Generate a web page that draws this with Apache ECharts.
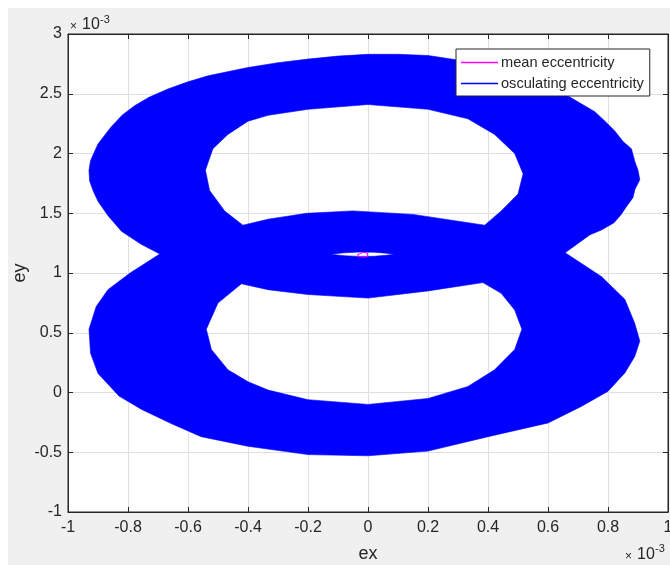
<!DOCTYPE html>
<html>
<head>
<meta charset="utf-8">
<title>eccentricity</title>
<script src="https://cdn.jsdelivr.net/npm/echarts@6/dist/echarts.min.js"></script>
<style>
  html, body { margin: 0; padding: 0; background: #fff; }
  #chart { position: absolute; left: 8px; top: 8px; width: 662px; height: 557px; }
</style>
</head>
<body>
<div id="chart"></div>
<script>
// all values in units of 1e-3 (the axes carry the x10^-3 factor)
const xTicks = [-1, -0.8, -0.6, -0.4, -0.2, 0, 0.2, 0.4, 0.6, 0.8, 1]
const yTicks = [-1, -0.5, 0, 0.5, 1, 1.5, 2, 2.5, 3]

// osculating eccentricity: the filled band, traced as boundaries [ex, ey]
// upper loop, outside edge
const upperOuter = [
  [-0.694, 1.16], [-0.4, 1.10], [-0.16, 1.10], [-0.125, 1.157], [-0.08, 1.169], [-0.03, 1.175],
  [0.02, 1.174], [0.06, 1.166], [0.088, 1.157], [0.12, 1.10], [0.35, 1.10], [0.657, 1.17],
  [0.74, 1.32], [0.778, 1.36], [0.82, 1.42], [0.844, 1.49], [0.86, 1.55], [0.883, 1.63],
  [0.89, 1.70], [0.906, 1.78], [0.9, 1.86], [0.89, 1.93], [0.878, 2.04], [0.85, 2.10],
  [0.822, 2.19], [0.79, 2.27], [0.756, 2.35], [0.667, 2.48], [0.5, 2.66], [0.333, 2.77],
  [0.2, 2.82], [0.1, 2.83], [0, 2.83], [-0.1, 2.815], [-0.2, 2.79], [-0.3, 2.76], [-0.4, 2.72],
  [-0.533, 2.65], [-0.6, 2.60], [-0.667, 2.54], [-0.73, 2.47], [-0.778, 2.40], [-0.82, 2.32],
  [-0.857, 2.22], [-0.9, 2.08], [-0.925, 1.94], [-0.93, 1.86], [-0.928, 1.77], [-0.915, 1.68],
  [-0.9, 1.60], [-0.867, 1.48], [-0.822, 1.35], [-0.756, 1.24]
]
// upper loop, hole
const upperHole = [
  [-0.417, 1.40], [-0.478, 1.52], [-0.528, 1.69], [-0.542, 1.86], [-0.517, 2.04], [-0.467, 2.16],
  [-0.4, 2.27], [-0.333, 2.32], [-0.2, 2.37], [0, 2.41], [0.2, 2.37], [0.333, 2.29],
  [0.422, 2.16], [0.489, 2.0], [0.517, 1.83], [0.5, 1.66], [0.444, 1.52], [0.389, 1.40],
  [0.15, 1.49], [-0.05, 1.52], [-0.204, 1.50], [-0.333, 1.45]
]
// lower loop, outside edge
const lowerOuter = [
  [0.657, 1.17], [0.35, 1.22], [0.12, 1.22], [0.088, 1.157], [0.06, 1.148], [0.02, 1.140],
  [-0.03, 1.139], [-0.08, 1.145], [-0.125, 1.157], [-0.16, 1.22], [-0.4, 1.22], [-0.694, 1.16],
  [-0.793, 1.0], [-0.867, 0.86], [-0.906, 0.72], [-0.93, 0.53], [-0.925, 0.33], [-0.9, 0.16],
  [-0.83, -0.03], [-0.756, -0.14], [-0.656, -0.26], [-0.556, -0.37], [-0.4, -0.45], [-0.2, -0.52],
  [0, -0.53], [0.2, -0.49], [0.4, -0.37], [0.6, -0.255], [0.711, -0.116], [0.8, 0.01],
  [0.856, 0.163], [0.889, 0.30], [0.906, 0.43], [0.889, 0.58], [0.856, 0.78], [0.778, 0.97]
]
// lower loop, hole
const lowerHole = [
  [-0.422, 0.91], [-0.333, 0.86], [-0.2, 0.82], [0, 0.79], [0.2, 0.85], [0.383, 0.92],
  [0.444, 0.83], [0.489, 0.69], [0.513, 0.53], [0.489, 0.36], [0.422, 0.19], [0.333, 0.05],
  [0.2, -0.05], [0, -0.10], [-0.2, -0.06], [-0.333, 0.02], [-0.4, 0.09], [-0.467, 0.19],
  [-0.522, 0.36], [-0.539, 0.53], [-0.5, 0.75]
]

// mean eccentricity: the small closed loop in the middle
const meanEcc = [
  [-0.036, 1.153], [-0.03, 1.168], [-0.016, 1.173], [-0.002, 1.168], [0.004, 1.153],
  [-0.002, 1.138], [-0.016, 1.133], [-0.03, 1.138], [-0.036, 1.153]
]

const axisColor = '#262626'
const font = 'Liberation Sans, Arial, sans-serif'

function ringPath(api, pts) {
  return pts.map((p, i) => {
    const c = api.coord(p)
    return (i ? 'L' : 'M') + c[0].toFixed(1) + ' ' + c[1].toFixed(1)
  }).join(' ') + ' Z'
}

// shared axis look, ticks pointing in like matlab
function boxAxis(extra) {
  return Object.assign({
    type: 'value',
    axisLine: { show: true, onZero: false, lineStyle: { color: axisColor } },
    axisTick: { show: true, inside: true, length: 5, lineStyle: { color: axisColor } },
    axisLabel: { show: false },
    splitLine: { show: false }
  }, extra)
}

const chart = echarts.init(document.getElementById('chart'))
chart.setOption({
  backgroundColor: '#f0f0f0',
  animation: false,
  textStyle: { fontFamily: font },
  grid: {
    left: 60, top: 26, width: 600, height: 478,
    outerBoundsMode: 'none',
    containLabel: false,
    show: true, backgroundColor: '#fff', borderColor: axisColor, borderWidth: 1
  },
  legend: {
    orient: 'vertical',
    left: 448,
    top: 41,
    padding: [6, 6, 5, 5],
    itemGap: 6,
    itemWidth: 37,
    itemHeight: 1.5,
    backgroundColor: '#fff',
    borderColor: axisColor,
    borderWidth: 1,
    borderRadius: 0,
    textStyle: { fontSize: 14.6, color: axisColor, fontFamily: font, padding: [0, 0, 0, -2] },
    data: [
      { name: 'mean eccentricity', icon: 'rect' },
      { name: 'osculating eccentricity', icon: 'rect' }
    ]
  },
  xAxis: [
    boxAxis({
      min: xTicks[0], max: xTicks[xTicks.length - 1], interval: 0.2,
      name: 'ex', nameLocation: 'middle', nameGap: 33, nameMoveOverlap: false,
      nameTextStyle: { fontSize: 18, color: axisColor },
      axisLabel: { show: true, fontSize: 16, color: axisColor, margin: 8, formatter: v => String(+v.toFixed(1)) },
      splitLine: { show: true, lineStyle: { color: '#dfdfdf' } }
    }),
    boxAxis({ position: 'top', min: xTicks[0], max: xTicks[xTicks.length - 1], interval: 0.2 })
  ],
  yAxis: [
    boxAxis({
      min: yTicks[0], max: yTicks[yTicks.length - 1], interval: 0.5,
      name: 'ey', nameLocation: 'middle', nameGap: 39, nameMoveOverlap: false,
      nameTextStyle: { fontSize: 18, color: axisColor },
      axisLabel: { show: true, fontSize: 16, color: axisColor, margin: 6, formatter: v => String(+v.toFixed(1)) },
      splitLine: { show: true, lineStyle: { color: '#dfdfdf' } }
    }),
    boxAxis({ position: 'right', min: yTicks[0], max: yTicks[yTicks.length - 1], interval: 0.5 })
  ],
  series: [
    {
      name: 'osculating eccentricity',
      type: 'custom',
      clip: true,
      itemStyle: { color: '#0000ff' },
      data: [[0, 1.15]],
      // one compound path, holes run the other way round so they stay empty
      renderItem: (params, api) => ({
        type: 'path',
        shape: {
          pathData: [upperOuter, upperHole, lowerOuter, lowerHole].map(r => ringPath(api, r)).join(' ')
        },
        style: { fill: '#0000ff', stroke: '#0000ff', lineWidth: 0.6 }
      })
    },
    {
      name: 'mean eccentricity',
      type: 'line',
      data: meanEcc,
      showSymbol: false,
      itemStyle: { color: '#ff00ff' },
      lineStyle: { color: '#ff00ff', width: 1 },
      z: 3
    }
  ],
  graphic: [
    // x10^-3 factor, top left of the y axis
    { type: 'text', left: 62, top: 13, style: { text: '×', fill: axisColor, font: '12px ' + font } },
    { type: 'text', left: 74, top: 9, style: { text: '10', fill: axisColor, font: '16px ' + font } },
    { type: 'text', left: 92, top: 6, style: { text: '-3', fill: axisColor, font: '11px ' + font } },
    // and bottom right of the x axis
    { type: 'text', left: 617, top: 543, style: { text: '×', fill: axisColor, font: '12px ' + font } },
    { type: 'text', left: 629, top: 539, style: { text: '10', fill: axisColor, font: '16px ' + font } },
    { type: 'text', left: 647, top: 535, style: { text: '-3', fill: axisColor, font: '11px ' + font } }
  ]
})
</script>
</body>
</html>
